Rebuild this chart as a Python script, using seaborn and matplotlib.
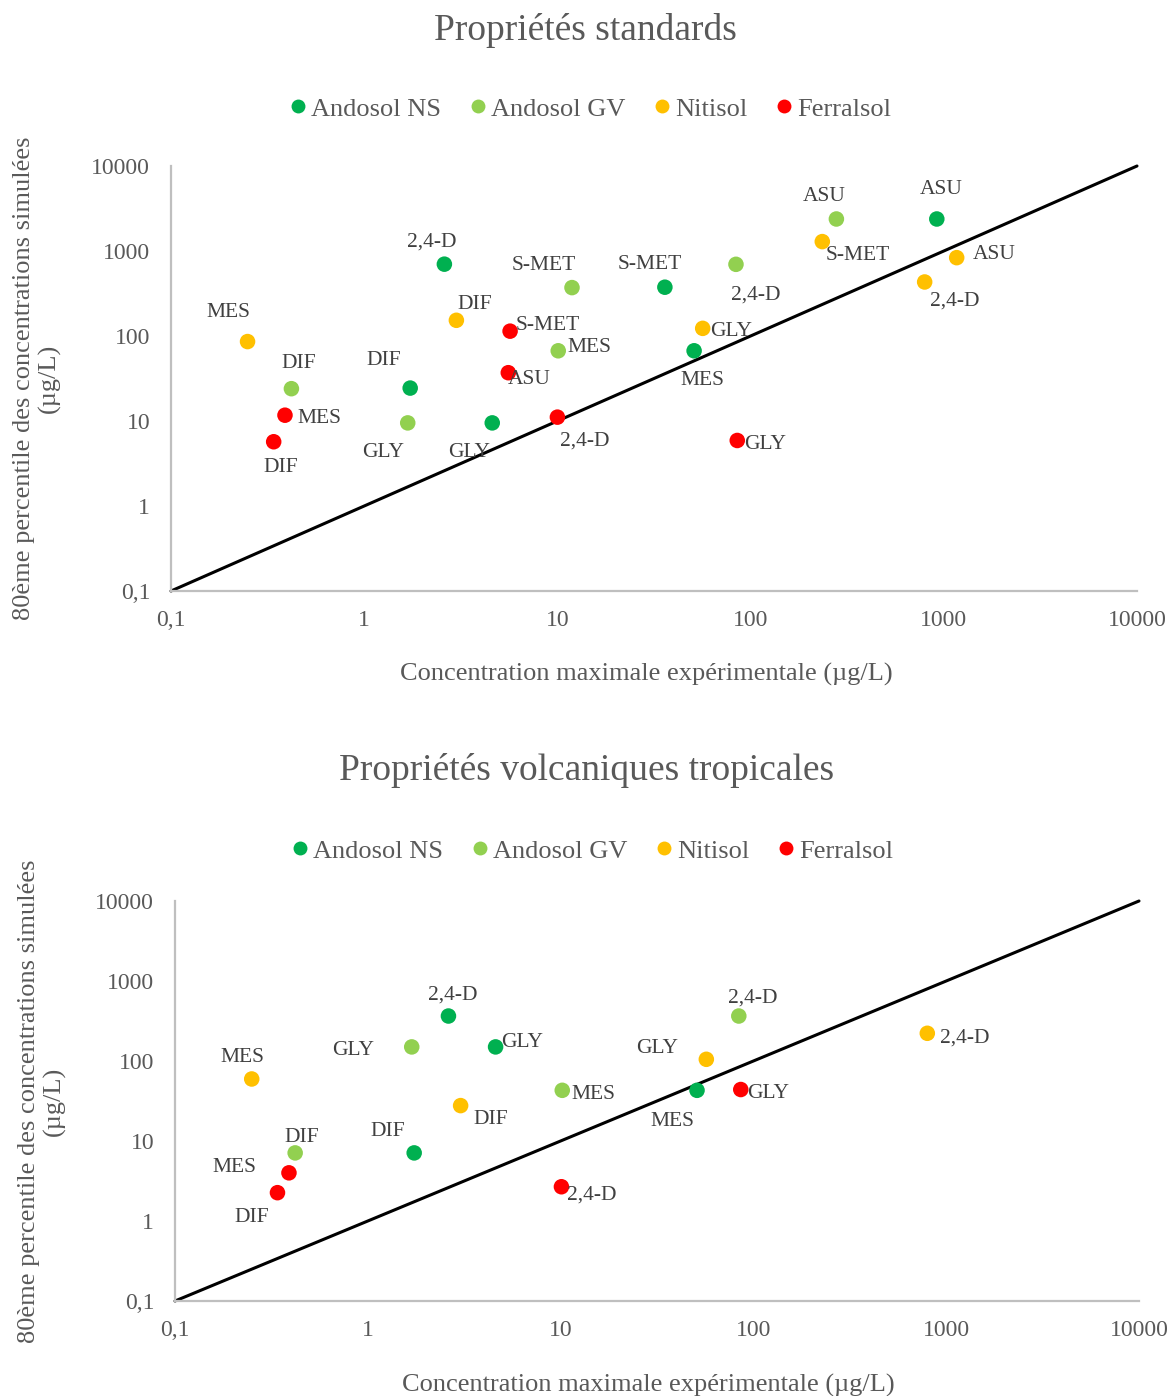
import matplotlib
matplotlib.use("Agg")
import matplotlib.pyplot as plt
from matplotlib.lines import Line2D
import seaborn as sns
import pandas as pd

# ---------------- data ----------------
soils = ["Andosol NS", "Andosol GV", "Nitisol", "Ferralsol"]
soil_colors = ["#00B050", "#92D050", "#FFC000", "#FF0000"]

tick_values = [0.1, 1, 10, 100, 1000, 10000]
tick_labels = ["0,1", "1", "10", "100", "1000", "10000"]
diag = [0.1, 10000]

# Panel 1 : Propriétés standards
std_ns_lab = ["2,4-D", "S-MET", "ASU", "MES", "DIF", "GLY"]
std_ns_x = [2.6, 36, 920, 51, 1.73, 4.6]
std_ns_y = [700, 375, 2380, 67, 24.4, 9.5]

std_gv_lab = ["ASU", "2,4-D", "S-MET", "MES", "DIF", "GLY"]
std_gv_x = [278, 84, 11.9, 10.1, 0.42, 1.68]
std_gv_y = [2380, 697, 371, 67, 24, 9.5]

std_nit_lab = ["MES", "DIF", "GLY", "S-MET", "ASU", "2,4-D"]
std_nit_x = [0.249, 3.0, 56.5, 235, 1166, 796]
std_nit_y = [86, 153, 123, 1290, 835, 432]

std_fer_lab = ["MES", "DIF", "S-MET", "ASU", "2,4-D", "GLY"]
std_fer_x = [0.389, 0.34, 5.69, 5.57, 10.0, 85.3]
std_fer_y = [11.7, 5.7, 114, 37, 11.1, 5.9]

# Panel 2 : Propriétés volcaniques tropicales
vol_ns_lab = ["2,4-D", "GLY", "DIF", "MES"]
vol_ns_x = [2.62, 4.6, 1.74, 51]
vol_ns_y = [365, 150, 7.1, 43]

vol_gv_lab = ["GLY", "DIF", "MES", "2,4-D"]
vol_gv_x = [1.69, 0.42, 10.2, 84]
vol_gv_y = [150, 7.1, 43, 365]

vol_nit_lab = ["MES", "DIF", "GLY", "2,4-D"]
vol_nit_x = [0.25, 3.03, 57, 798]
vol_nit_y = [59.6, 27.7, 105, 222]

vol_fer_lab = ["MES", "DIF", "2,4-D", "GLY"]
vol_fer_x = [0.39, 0.34, 10.1, 86]
vol_fer_y = [4.0, 2.26, 2.68, 44]

# ---------------- label placement (style, pixels; up positive) ----------------
std_off = {
    "Andosol NS": [(-13, 25), (-15, 26), (4, 32), (8, -27), (-26, 31), (-23, -27)],
    "Andosol GV": [(-12, 25), (20, -28), (-28, 25), (31, 6), (7, 28), (-25, -27)],
    "Nitisol": [(-19, 32), (18, 19), (28, 0), (35, -11), (38, 6), (30, -16)],
    "Ferralsol": [(34, 0), (7, -23), (38, 9), (21, -4), (27, -21), (28, -1)],
}
vol_off = {
    "Andosol NS": [(4, 24), (27, 7), (-26, 24), (-25, -28)],
    "Andosol GV": [(-59, -1), (7, 18), (31, -1), (14, 21)],
    "Nitisol": [(-9, 24), (30, -11), (-49, 14), (37, -2)],
    "Ferralsol": [(-55, 8), (-26, -22), (30, -5), (27, -1)],
}
LABEL_DY = -3


def make_df(groups):
    rows = []
    for soil, (labs, xs, ys) in zip(soils, groups):
        for l, x, y in zip(labs, xs, ys):
            rows.append({"Sol": soil, "x": x, "y": y, "lab": l})
    return pd.DataFrame(rows)


df_std = make_df([(std_ns_lab, std_ns_x, std_ns_y), (std_gv_lab, std_gv_x, std_gv_y),
                  (std_nit_lab, std_nit_x, std_nit_y), (std_fer_lab, std_fer_x, std_fer_y)])
df_vol = make_df([(vol_ns_lab, vol_ns_x, vol_ns_y), (vol_gv_lab, vol_gv_x, vol_gv_y),
                  (vol_nit_lab, vol_nit_x, vol_nit_y), (vol_fer_lab, vol_fer_x, vol_fer_y)])

# ---------------- style ----------------
sns.set_theme(style="white")
plt.rcParams["font.family"] = ["Liberation Serif", "DejaVu Serif"]
TXT = "#595959"
AX = "#BFBFBF"
palette = dict(zip(soils, soil_colors))

fig = plt.figure(figsize=(11.68, 13.96), dpi=100)
W, H = 1168, 1396


def panel(rect, df, offsets, title, title_xy, leg_xy, xlab_xy, ylab_x):
    l, t, r, b = rect
    ax = fig.add_axes([l / W, 1 - b / H, (r - l) / W, (b - t) / H])
    ax.set_xscale("log")
    ax.set_yscale("log")
    ax.set_xlim(diag[0], diag[1])
    ax.set_ylim(diag[0], diag[1])
    ax.plot(diag, diag, color="black", lw=2.2, zorder=2, clip_on=False)
    sns.scatterplot(data=df, x="x", y="y", hue="Sol", palette=palette, hue_order=soils,
                    s=125, edgecolor="none", linewidth=0, legend=False, ax=ax, zorder=3,
                    clip_on=False)
    for soil in soils:
        sub = df[df["Sol"] == soil].reset_index(drop=True)
        for i, row in sub.iterrows():
            dx, dy = offsets[soil][i]
            ax.annotate(row["lab"], (row["x"], row["y"]), xytext=(dx, dy + LABEL_DY),
                        textcoords="offset pixels", ha="center", va="center",
                        fontsize=15.5, color="#404040", zorder=4)
    ax.set_xticks(tick_values)
    ax.set_xticklabels(tick_labels)
    ax.set_yticks(tick_values)
    ax.set_yticklabels(tick_labels)
    ax.minorticks_off()
    ax.tick_params(axis="both", which="major", direction="inout", length=10, width=1.3,
                   color=AX, labelsize=17, labelcolor=TXT)
    ax.tick_params(axis="x", pad=9)
    ax.tick_params(axis="y", pad=10)
    for s in ["top", "right"]:
        ax.spines[s].set_visible(False)
    for s in ["left", "bottom"]:
        ax.spines[s].set_color(AX)
        ax.spines[s].set_linewidth(1.6)
    ax.set_xlabel("")
    ax.set_ylabel("")
    ax.grid(False)
    cy = (t + b) / 2
    fig.text(title_xy[0] / W, 1 - title_xy[1] / H, title, ha="center", va="center",
             fontsize=27, color=TXT)
    fig.text(xlab_xy[0] / W, 1 - xlab_xy[1] / H, "Concentration maximale expérimentale (µg/L)",
             ha="center", va="center", fontsize=19, color=TXT)
    fig.text(ylab_x / W, 1 - cy / H,
             "80ème percentile des concentrations simulées\n(µg/L)",
             ha="center", va="center", rotation=90, fontsize=19, color=TXT,
             linespacing=1.15, multialignment="center")
    handles = [Line2D([0], [0], marker="o", linestyle="none", markersize=10,
                      markerfacecolor=c, markeredgecolor="none") for c in soil_colors]
    fig.legend(handles, soils, loc="center", bbox_to_anchor=(leg_xy[0] / W, 1 - leg_xy[1] / H),
               ncol=4, frameon=False, fontsize=19, labelcolor=TXT, handletextpad=0.0,
               columnspacing=0.88, handlelength=1.0, borderaxespad=0)
    return ax


panel((171, 166, 1137, 591), df_std, std_off, "Propriétés standards", (585, 30), (588, 109),
      (646, 674), 37)
panel((175, 901, 1139, 1301), df_vol, vol_off, "Propriétés volcaniques tropicales", (587, 770),
      (590, 851), (648, 1385), 42)

fig.savefig("out.png", dpi=100)
